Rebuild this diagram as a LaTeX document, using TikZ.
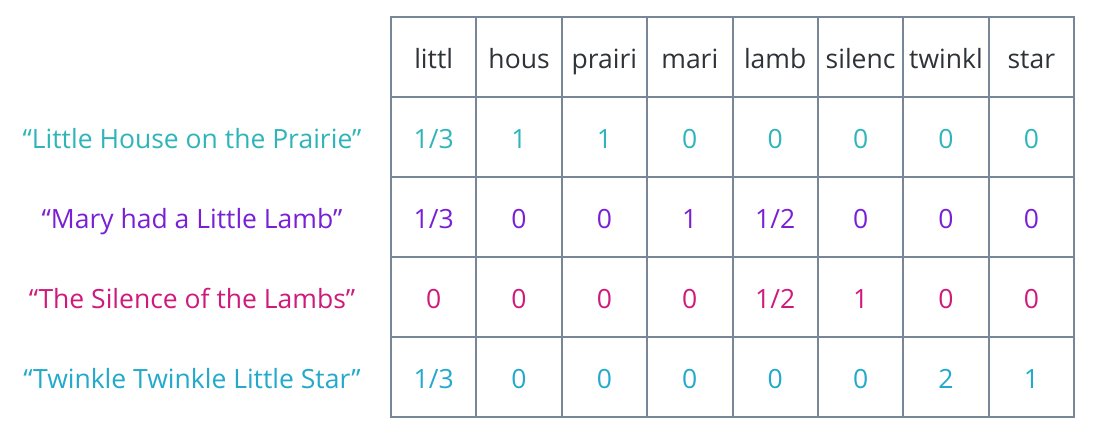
\documentclass[tikz,border=0pt]{standalone}
\usepackage{fontspec}
\setmainfont{Open Sans}
\usetikzlibrary{positioning}
\definecolor{gridgray}{HTML}{778797}
\definecolor{headgray}{HTML}{2E3338}
\definecolor{prairie}{HTML}{2FB5B9}
\definecolor{mary}{HTML}{7A1FD6}
\definecolor{silence}{HTML}{CF1A7C}
\definecolor{twinkle}{HTML}{22A9CB}

\begin{document}
\begin{tikzpicture}[x=1pt, y=-1pt,
	cell/.style={draw=gridgray, line width=2pt, minimum width=85.375pt, minimum height=80pt, inner sep=0pt, text height=22pt, text depth=0pt, font=\fontsize{26.5}{32}\selectfont},
	title/.style={inner sep=0pt, text height=22pt, text depth=0pt, font=\fontsize{26.5}{32}\selectfont}]
	\useasboundingbox (0,0) rectangle (1094,434);
	% header row
	\foreach \w [count=\j] in {littl,hous,prairi,mari,lamb,silenc,twinkl,star}
		\node [cell,text=headgray] (h\j) at ({391+85.375*(\j-0.5)},57) {\w};
	% one row per title
	\foreach \v [count=\j] in {1/3,1,1,0,0,0,0,0}
		\node [cell,text=prairie] (a\j) at ({391+85.375*(\j-0.5)},137) {\v};
	\foreach \v [count=\j] in {1/3,0,0,1,1/2,0,0,0}
		\node [cell,text=mary] (b\j) at ({391+85.375*(\j-0.5)},217) {\v};
	\foreach \v [count=\j] in {0,0,0,0,1/2,1,0,0}
		\node [cell,text=silence] (c\j) at ({391+85.375*(\j-0.5)},297) {\v};
	\foreach \v [count=\j] in {1/3,0,0,0,0,0,2,1}
		\node [cell,text=twinkle] (d\j) at ({391+85.375*(\j-0.5)},377) {\v};
	% titles
	\node [title,text=prairie] (ta) at (192,137) {“Little House on the Prairie”};
	\node [title,text=mary] (tb) at (192,217) {“Mary had a Little Lamb”};
	\node [title,text=silence] (tc) at (192,297) {“The Silence of the Lambs”};
	\node [title,text=twinkle] (td) at (192,377) {“Twinkle Twinkle Little Star”};
\end{tikzpicture}
\end{document}
